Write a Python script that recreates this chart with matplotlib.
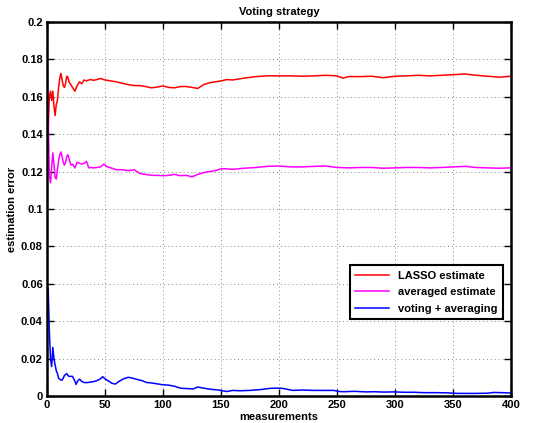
import matplotlib.pyplot as plt
from matplotlib.ticker import FuncFormatter

plt.rcParams['font.family'] = ['Liberation Sans', 'DejaVu Sans']
plt.rcParams['font.weight'] = 'bold'

# LASSO estimate
x_lasso = [1, 2, 3, 4, 5, 6, 7, 8, 9, 10, 11, 12, 13, 14, 15, 16, 17, 18, 19, 20,
           22, 24, 26, 28, 30, 32, 34, 36, 38, 40, 43, 46, 50, 55, 60, 65, 70, 75,
           80, 85, 90, 95, 100, 105, 110, 115, 120, 125, 130, 135, 140, 145, 150,
           155, 160, 170, 180, 190, 200, 210, 220, 230, 240, 250, 255, 260, 270,
           280, 290, 300, 310, 320, 330, 340, 350, 360, 370, 380, 390, 400]
y_lasso = [0.142, 0.160, 0.163, 0.158, 0.163, 0.155, 0.150, 0.156, 0.158, 0.165,
           0.170, 0.1725, 0.169, 0.166, 0.165, 0.167, 0.171, 0.1705, 0.168, 0.167,
           0.165, 0.163, 0.166, 0.168, 0.167, 0.169, 0.1685, 0.169, 0.1692, 0.1688,
           0.1692, 0.1698, 0.169, 0.1685, 0.168, 0.1672, 0.1665, 0.166, 0.166,
           0.1655, 0.1648, 0.1652, 0.1658, 0.165, 0.1648, 0.1655, 0.1655, 0.165,
           0.1645, 0.1665, 0.1675, 0.168, 0.1685, 0.1692, 0.169, 0.170, 0.1708,
           0.1712, 0.1712, 0.1712, 0.171, 0.1712, 0.1715, 0.1712, 0.170, 0.1708,
           0.1708, 0.171, 0.1702, 0.171, 0.1712, 0.1715, 0.1712, 0.1715, 0.1718,
           0.1722, 0.1715, 0.171, 0.1705, 0.171]

# averaged estimate
x_avg = [0, 1, 2, 3, 4, 5, 6, 7, 8, 9, 10, 11, 12, 13, 14, 15, 16, 17, 18, 19, 20,
         21, 22, 24, 26, 28, 30, 32, 34, 36, 38, 40, 43, 46, 49, 52, 55, 60, 65,
         70, 75, 80, 85, 90, 95, 100, 105, 110, 115, 120, 125, 130, 135, 140, 145,
         150, 155, 160, 170, 180, 190, 200, 210, 220, 230, 240, 250, 260, 270, 280,
         290, 300, 310, 320, 330, 340, 350, 360, 370, 380, 390, 400]
y_avg = [0.187, 0.150, 0.118, 0.114, 0.122, 0.130, 0.124, 0.117, 0.116, 0.121,
         0.126, 0.129, 0.1305, 0.128, 0.125, 0.1235, 0.125, 0.128, 0.129, 0.127,
         0.1245, 0.1235, 0.124, 0.122, 0.125, 0.1245, 0.124, 0.1245, 0.1255, 0.122,
         0.1222, 0.122, 0.1222, 0.1225, 0.124, 0.1225, 0.122, 0.121, 0.121, 0.1205,
         0.121, 0.119, 0.1185, 0.118, 0.118, 0.1178, 0.118, 0.1185, 0.1178, 0.118,
         0.1172, 0.1185, 0.1195, 0.120, 0.1205, 0.1215, 0.1215, 0.1212, 0.1218,
         0.1222, 0.1228, 0.123, 0.1225, 0.1225, 0.1228, 0.123, 0.1222, 0.122,
         0.1222, 0.1222, 0.1218, 0.122, 0.1222, 0.1222, 0.122, 0.1222, 0.1225,
         0.1228, 0.1222, 0.122, 0.1218, 0.122]

# voting + averaging
x_vote = [1, 2, 3, 4, 5, 6, 7, 8, 9, 10, 11, 12, 13, 14, 15, 16, 17, 18, 19, 20,
          22, 24, 25, 26, 27, 28, 30, 32, 35, 38, 41, 44, 46, 48, 50, 53, 56, 59,
          62, 66, 70, 74, 78, 82, 86, 90, 95, 100, 105, 110, 115, 120, 126, 130,
          135, 141, 148, 155, 160, 166, 175, 185, 192, 198, 203, 212, 220, 230,
          240, 247, 252, 256, 265, 275, 282, 290, 299, 308, 316, 325, 335, 345,
          354, 362, 370, 380, 385, 392, 400]
y_vote = [0.0576, 0.035, 0.020, 0.0157, 0.026, 0.020, 0.0166, 0.0135, 0.012,
          0.0095, 0.009, 0.0085, 0.0085, 0.0095, 0.011, 0.0115, 0.012, 0.011,
          0.0105, 0.0105, 0.0105, 0.008, 0.0062, 0.0075, 0.0085, 0.009, 0.0078,
          0.0072, 0.0072, 0.0075, 0.0078, 0.0085, 0.0092, 0.0103, 0.0092, 0.008,
          0.0068, 0.0064, 0.0078, 0.0092, 0.0100, 0.0095, 0.0088, 0.0082, 0.0072,
          0.007, 0.0065, 0.006, 0.0058, 0.0052, 0.0042, 0.004, 0.0038, 0.0048,
          0.0042, 0.0036, 0.0032, 0.0024, 0.003, 0.0028, 0.003, 0.0035, 0.0041,
          0.0042, 0.0041, 0.003, 0.0032, 0.003, 0.003, 0.003, 0.0024, 0.0023,
          0.0025, 0.0022, 0.0023, 0.0021, 0.0022, 0.002, 0.002, 0.0018, 0.0018,
          0.0017, 0.0014, 0.0014, 0.0014, 0.0015, 0.0019, 0.0018, 0.0016]

fig = plt.figure(figsize=(5.36, 4.23), dpi=100)
ax = fig.add_axes([0.0877, 0.0638, 0.8657, 0.8842])

ax.plot(x_lasso, y_lasso, color='#ff0000', lw=1.1, label='LASSO estimate')
ax.plot(x_avg, y_avg, color='#ff00ff', lw=1.1, label='averaged estimate')
ax.plot(x_vote, y_vote, color='#0000ff', lw=1.1, label='voting + averaging')

ax.set_xlim(0, 400)
ax.set_ylim(0, 0.2)
ax.set_xticks(range(0, 401, 50))
ax.set_yticks([i * 0.02 for i in range(11)])
ax.yaxis.set_major_formatter(FuncFormatter(lambda v, p: '%g' % round(v, 3)))
ax.tick_params(direction='in', length=5, width=1, labelsize=8, top=True, right=True, pad=3)
for lab in ax.get_xticklabels() + ax.get_yticklabels():
    lab.set_fontweight('bold')
for s in ax.spines.values():
    s.set_linewidth(1.8)
ax.grid(True, linestyle=(0, (1, 3)), color='#888888', linewidth=0.7)

ax.set_title('Voting strategy', fontsize=8, fontweight='bold', pad=5)
ax.set_xlabel('measurements', fontsize=8, fontweight='bold', labelpad=1)
ax.set_ylabel('estimation error', fontsize=8, fontweight='bold', labelpad=3)

leg = ax.legend(loc='lower right', bbox_to_anchor=(0.994, 0.19), fontsize=8,
                fancybox=False, framealpha=1, edgecolor='black',
                handlelength=3.0, borderpad=0.5, labelspacing=0.6)
leg.get_frame().set_linewidth(1.5)
for t in leg.get_texts():
    t.set_fontweight('bold')

plt.savefig('out.png', dpi=100)
